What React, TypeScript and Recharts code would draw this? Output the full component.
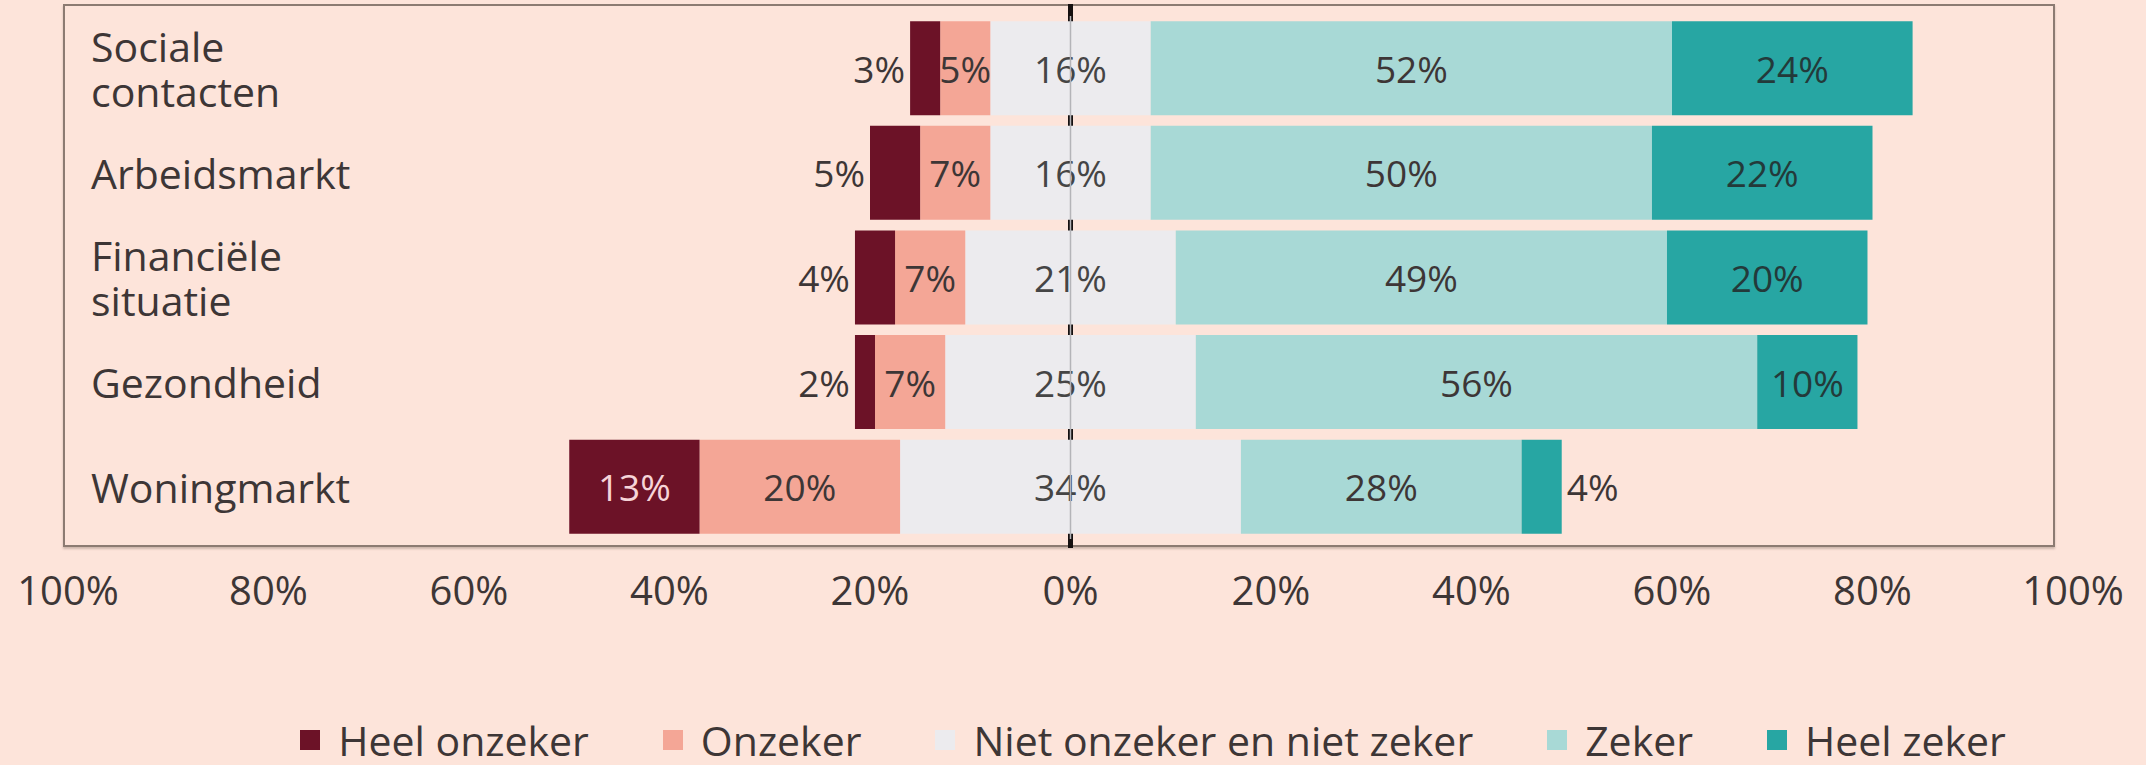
import React from "react";
import { BarChart, Bar, XAxis, YAxis, ReferenceLine, LabelList, Legend } from "recharts";

// categories, top to bottom
const categories = [
  "Sociale contacten",
  "Arbeidsmarkt",
  "Financiële situatie",
  "Gezondheid",
  "Woningmarkt",
];

// percentages per answer
const heelOnzeker = [3, 5, 4, 2, 13];
const onzeker = [5, 7, 7, 7, 20];
const neutraal = [16, 16, 21, 25, 34];
const zeker = [52, 50, 49, 56, 28];
const heelZeker = [24, 22, 20, 10, 4];

const xTicks = [-100, -80, -60, -40, -20, 0, 20, 40, 60, 80, 100];

const legendNames = [
  "Heel onzeker",
  "Onzeker",
  "Niet onzeker en niet zeker",
  "Zeker",
  "Heel zeker",
];
const legendColors = ["#6c1227", "#f4a696", "#ecebee", "#a8d9d6", "#27a6a3"];

const FONT = "'Open Sans', 'Noto Sans', sans-serif";
const TEXT = "#3d3636";

// diverging stack: negative side left of 0, neutral split in half over 0
const data = categories.map((name, i) => ({
  name,
  heelOnzeker: -heelOnzeker[i],
  onzeker: -onzeker[i],
  neutraalL: -neutraal[i] / 2,
  neutraalR: neutraal[i] / 2,
  zeker: zeker[i],
  heelZeker: heelZeker[i],
  neutraal: neutraal[i],
}));

const getBox = (p: any) => {
  const v = p.viewBox && p.viewBox.width !== undefined ? p.viewBox : p;
  let x = Number(v.x);
  let w = Number(v.width);
  if (w < 0) {
    x += w;
    w = -w;
  }
  return { x, y: Number(v.y), width: w, height: Number(v.height) };
};

// kind: "in" = always inside, "left"/"right" = outside when too small
const makeLabel =
  (kind: "in" | "left" | "right", minInside: number, fill = TEXT, insideFill = TEXT) =>
  (props: any) => {
    const b = getBox(props);
    const val = Math.abs(Number(props.value));
    const cy = b.y + b.height / 2;
    const common = { fontSize: 37, fontFamily: FONT, dominantBaseline: "central" as const };
    if (kind === "left" && val < minInside) {
      return (
        <text x={b.x - 5} y={cy} textAnchor="end" fill={fill} {...common}>
          {val}%
        </text>
      );
    }
    if (kind === "right" && val < minInside) {
      return (
        <text x={b.x + b.width + 5} y={cy} textAnchor="start" fill={fill} {...common}>
          {val}%
        </text>
      );
    }
    return (
      <text x={b.x + b.width / 2} y={cy} textAnchor="middle" fill={insideFill} {...common}>
        {val}%
      </text>
    );
  };

const neutralLabel = (props: any) => {
  const b = getBox(props);
  return (
    <text
      x={b.x}
      y={b.y + b.height / 2}
      textAnchor="middle"
      dominantBaseline="central"
      fontSize={37}
      fontFamily={FONT}
      fill="#454545"
    >
      {props.value}%
    </text>
  );
};

function CategoryTick({ x, y, payload }: any) {
  const lines = String(payload.value).split(" ");
  const lh = 45;
  const start = -((lines.length - 1) * lh) / 2;
  return (
    <text x={x + 23} y={y} fill={TEXT} fontSize={41} fontFamily={FONT} textAnchor="start">
      {lines.map((l, i) => (
        <tspan key={i} x={x + 23} y={y + start + i * lh} dominantBaseline="central">
          {l}
        </tspan>
      ))}
    </text>
  );
}

function LegendBox() {
  return (
    <div
      style={{
        display: "flex",
        justifyContent: "center",
        alignItems: "center",
        height: 50,
        paddingLeft: 160,
        fontFamily: FONT,
        fontSize: 41,
        lineHeight: "50px",
        color: TEXT,
        gap: 74,
      }}
    >
      {legendNames.map((n, i) => (
        <div key={n} style={{ display: "flex", alignItems: "center", gap: 18, height: 50 }}>
          <span style={{ width: 20, height: 20, background: legendColors[i], display: "inline-block" }} />
          <span>{n}</span>
        </div>
      ))}
    </div>
  );
}

// zero line that reaches up to the frame, behind the bars
const ZeroLine = (p: any) => (
  <line
    x1={p.x1}
    x2={p.x2}
    y1={Math.min(p.y1, p.y2) - 12}
    y2={Math.max(p.y1, p.y2) + 9}
    stroke="#151010"
    strokeWidth={5}
  />
);

export default function App() {
  return (
    <div style={{ position: "relative", width: 2146, height: 765, background: "#fde4da" }}>
      <style>{`body{margin:0}`}</style>
      {/* chart frame */}
      <div
        style={{
          position: "absolute",
          left: 63,
          top: 4,
          width: 1992,
          height: 543,
          boxSizing: "border-box",
          border: "2px solid #8c7b72",
          boxShadow: "0 2px 2px rgba(120,100,90,0.35)",
        }}
      />
      <BarChart
        width={2146}
        height={765}
        data={data}
        layout="vertical"
        stackOffset="sign"
        barCategoryGap="5%"
        margin={{ top: 16, right: 73, bottom: 116, left: 67 }}
        style={{ position: "absolute", left: 0, top: 0 }}
      >
        <XAxis
          type="number"
          domain={[-100, 100]}
          ticks={xTicks}
          tickFormatter={(v: number) => `${Math.abs(v)}%`}
          tick={{ fontSize: 40, fill: TEXT, fontFamily: FONT }}
          axisLine={false}
          tickLine={false}
          tickSize={0}
          tickMargin={38}
          height={60}
          interval={0}
        />
        <YAxis
          type="category"
          dataKey="name"
          width={1}
          axisLine={false}
          tickLine={false}
          tickSize={0}
          tickMargin={0}
          tick={<CategoryTick />}
          interval={0}
        />
        <ReferenceLine x={0} ifOverflow="visible" zIndex={250} shape={ZeroLine} />
        <Bar dataKey="neutraalL" stackId="s" fill="#ecebee" isAnimationActive={false} legendType="none" />
        <Bar dataKey="neutraalR" stackId="s" fill="#ecebee" isAnimationActive={false}>
          <LabelList dataKey="neutraal" content={neutralLabel} />
        </Bar>
        <Bar dataKey="onzeker" stackId="s" fill="#f4a696" isAnimationActive={false}>
          <LabelList dataKey="onzeker" content={makeLabel("in", 0)} />
        </Bar>
        <Bar dataKey="zeker" stackId="s" fill="#a8d9d6" isAnimationActive={false}>
          <LabelList dataKey="zeker" content={makeLabel("in", 0)} />
        </Bar>
        <Bar dataKey="heelOnzeker" stackId="s" fill="#6c1227" isAnimationActive={false}>
          <LabelList dataKey="heelOnzeker" content={makeLabel("left", 10, TEXT, "#f6d4d8")} />
        </Bar>
        <Bar dataKey="heelZeker" stackId="s" fill="#27a6a3" isAnimationActive={false}>
          <LabelList dataKey="heelZeker" content={makeLabel("right", 5, TEXT, "#233a3a")} />
        </Bar>
        <ReferenceLine x={0} zIndex={2100} stroke="#b4b4b8" strokeWidth={1.5} />
        <Legend
          verticalAlign="bottom"
          content={<LegendBox />}
          wrapperStyle={{ left: 0, bottom: 0, width: 2146 }}
        />
      </BarChart>
    </div>
  );
}
